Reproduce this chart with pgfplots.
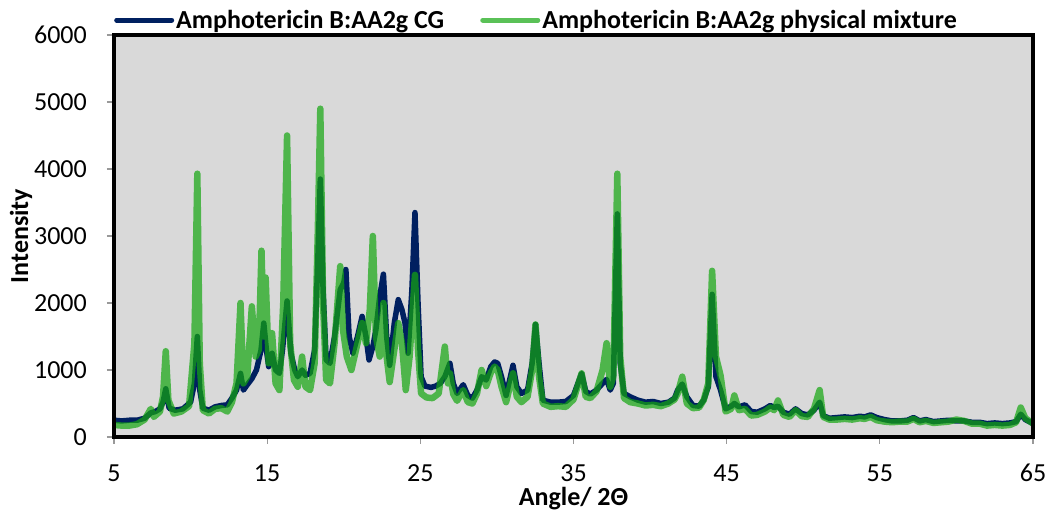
\documentclass[border=0pt]{standalone}
\usepackage{pgfplots}
\pgfplotsset{compat=1.18}
\usepackage{fontspec}
\setmainfont{Carlito}
\definecolor{navyline}{RGB}{0,32,96}
\definecolor{greenline}{RGB}{20,167,16}
\definecolor{plotbg}{RGB}{217,217,217}
\begin{document}
\begin{tikzpicture}
\useasboundingbox (-114pt,-76pt) rectangle (939pt,437pt);
\begin{axis}[
  at={(0pt,0pt)}, anchor=south west,
  scale only axis, width=919pt, height=402pt,
  xmin=5, xmax=65, ymin=0, ymax=6000,
  xtick={5,15,25,35,45,55,65},
  ytick={0,1000,2000,3000,4000,5000,6000},
  xtick pos=bottom, ytick pos=left,
  tick align=outside, major tick length=7pt,
  every tick/.style={gray!80, line width=1.2pt},
  axis line style={line width=4pt, black},
  axis background/.style={fill=plotbg},
  axis on top,
  /pgf/number format/assume math mode=true,
  /pgf/number format/set thousands separator={},
  tick label style={font=\fontsize{26}{30}\selectfont},
  xticklabel style={anchor=base, yshift=-38pt, inner sep=0pt},
  yticklabel style={anchor=east, xshift=-20pt, inner sep=0pt},
  every axis x label/.style={at={(rel axis cs:0.5,0)}, anchor=base, yshift=-69pt, font=\fontsize{26}{30}\selectfont\bfseries},
  every axis y label/.style={at={(rel axis cs:-0.1012,0.5)}, anchor=center, rotate=90, font=\fontsize{26}{30}\selectfont\bfseries},
  xlabel={Angle/ 2Θ},
  ylabel={Intensity},
  legend columns=2,
  legend style={at={(rel axis cs:0,1.037)}, anchor=west, draw=none, fill=none,
    font=\fontsize{26}{30}\selectfont\bfseries, inner sep=0pt,
    nodes={inner sep=2pt},
    /tikz/every even column/.append style={column sep=34pt}},
  legend image code/.code={\draw[#1, line width=5pt, line cap=round] (0pt,0pt) -- (55pt,0pt);},
]
\addplot[navyline, line width=5.5pt, line join=round] coordinates {
(5.0,250) (5.5,240) (6.0,250) (6.5,250) (7.0,280) (7.4,360) (7.7,380) (8.0,420) (8.2,520) (8.38,720) (8.6,430) (9.0,400) (9.5,420) (10.0,520) (10.25,800) (10.44,1500) (10.6,700) (10.8,430) (11.2,400) (11.6,450) (12.0,470) (12.4,480) (12.7,580) (13.0,700) (13.26,950) (13.45,700) (13.7,780) (14.0,870) (14.3,1000) (14.6,1300) (14.78,1700) (14.95,1300) (15.1,1050) (15.32,1250) (15.55,1000) (15.8,950) (16.0,1300) (16.3,2030) (16.55,1250) (16.8,1000) (17.0,900) (17.28,1000) (17.5,920) (17.8,950) (18.1,1300) (18.3,2600) (18.47,3850) (18.65,2200) (18.85,1150) (19.1,1100) (19.4,1500) (19.77,2200) (20.0,2300) (20.14,2500) (20.35,1500) (20.6,1250) (20.9,1500) (21.2,1800) (21.45,1500) (21.65,1150) (21.9,1350) (22.1,1600) (22.35,2100) (22.59,2430) (22.8,1500) (23.0,1070) (23.3,1700) (23.56,2050) (23.8,1900) (24.0,1700) (24.2,1250) (24.45,2200) (24.65,3350) (24.85,2000) (25.05,900) (25.3,760) (25.7,740) (26.0,760) (26.3,800) (26.6,900) (26.93,1100) (27.15,800) (27.4,650) (27.8,780) (28.1,620) (28.4,580) (28.7,700) (29.0,900) (29.3,850) (29.6,1050) (29.85,1120) (30.05,1100) (30.3,900) (30.6,620) (31.05,1070) (31.3,750) (31.6,650) (32.0,700) (32.3,1100) (32.52,1680) (32.75,1100) (33.0,550) (33.5,520) (34.0,520) (34.5,530) (35.0,620) (35.53,950) (35.8,680) (36.1,640) (36.5,700) (36.9,800) (37.16,860) (37.4,700) (37.6,800) (37.86,3330) (38.05,1100) (38.3,650) (38.7,600) (39.2,550) (39.7,520) (40.2,530) (40.7,500) (41.2,520) (41.6,580) (41.8,700) (42.1,790) (42.4,600) (42.8,470) (43.2,460) (43.5,550) (43.8,750) (44.05,2130) (44.3,900) (44.6,700) (44.93,420) (45.3,460) (45.5,500) (45.8,450) (46.2,480) (46.6,380) (47.0,370) (47.5,420) (47.85,470) (48.1,440) (48.35,460) (48.7,370) (49.1,340) (49.5,420) (49.9,350) (50.3,330) (50.7,400) (51.07,520) (51.3,320) (51.7,280) (52.2,290) (52.7,300) (53.2,290) (53.7,310) (54.0,300) (54.4,330) (54.8,290) (55.3,260) (55.8,240) (56.3,240) (56.8,250) (57.2,290) (57.6,240) (58.0,260) (58.5,230) (59.0,240) (59.5,250) (60.0,240) (60.5,240) (61.0,220) (61.5,220) (62.0,200) (62.5,210) (63.0,200) (63.5,210) (63.9,230) (64.2,340) (64.5,260) (65.0,200)
};
\addlegendentry{Amphotericin B:AA2g CG}
\addplot[greenline, opacity=0.7, line width=6.5pt, line join=round] coordinates {
(5.0,180) (5.5,170) (6.0,170) (6.5,190) (7.0,260) (7.4,420) (7.6,300) (8.0,380) (8.2,600) (8.38,1280) (8.55,550) (8.9,350) (9.4,380) (9.9,460) (10.25,1400) (10.44,3930) (10.6,1100) (10.8,400) (11.2,350) (11.6,420) (12.0,430) (12.4,380) (12.7,520) (13.0,800) (13.26,2000) (13.45,800) (13.7,900) (14.0,1950) (14.25,1200) (14.45,1300) (14.63,2780) (14.78,1500) (14.9,2380) (15.1,1100) (15.32,1550) (15.55,800) (15.8,700) (16.05,2000) (16.3,4500) (16.5,1400) (16.75,850) (17.0,750) (17.28,1200) (17.5,750) (17.8,700) (18.1,1100) (18.3,3000) (18.47,4900) (18.65,2000) (18.85,850) (19.1,800) (19.4,1400) (19.77,2550) (19.95,1600) (20.2,1200) (20.5,1000) (20.9,1400) (21.2,1700) (21.45,1400) (21.7,1900) (21.9,3000) (22.1,1500) (22.35,1200) (22.59,2000) (22.8,1200) (23.0,820) (23.3,1300) (23.56,1700) (23.8,1400) (24.05,700) (24.3,1200) (24.65,2420) (24.85,1300) (25.05,650) (25.4,590) (25.8,580) (26.2,650) (26.6,1350) (26.8,800) (26.93,950) (27.15,640) (27.4,540) (27.8,700) (28.1,520) (28.4,500) (28.7,650) (29.0,1000) (29.3,760) (29.6,960) (29.85,1050) (30.05,1000) (30.3,750) (30.6,520) (31.05,950) (31.3,600) (31.6,520) (32.0,600) (32.3,1000) (32.52,1680) (32.75,900) (33.0,500) (33.5,450) (34.0,460) (34.5,450) (35.0,560) (35.53,950) (35.8,600) (36.1,580) (36.5,680) (36.9,1000) (37.16,1400) (37.4,750) (37.6,900) (37.86,3930) (38.05,1200) (38.3,580) (38.7,520) (39.2,500) (39.7,470) (40.2,480) (40.7,460) (41.2,500) (41.6,560) (41.8,650) (42.1,900) (42.4,500) (42.8,430) (43.2,440) (43.5,550) (43.8,800) (44.05,2480) (44.3,1200) (44.6,920) (44.93,380) (45.3,420) (45.5,620) (45.8,400) (46.2,420) (46.6,320) (47.0,330) (47.5,380) (47.85,440) (48.1,400) (48.35,545) (48.7,330) (49.1,300) (49.5,400) (49.9,310) (50.3,300) (50.7,420) (51.07,700) (51.3,300) (51.7,260) (52.2,260) (52.7,270) (53.2,260) (53.7,280) (54.0,270) (54.4,300) (54.8,250) (55.3,230) (55.8,220) (56.3,230) (56.8,230) (57.2,270) (57.6,220) (58.0,240) (58.5,210) (59.0,220) (59.5,230) (60.0,260) (60.5,240) (61.0,200) (61.5,200) (62.0,170) (62.5,180) (63.0,170) (63.5,180) (63.9,220) (64.2,440) (64.5,280) (65.0,200)
};
\addlegendentry{Amphotericin B:AA2g physical mixture}
\end{axis}
\end{tikzpicture}
\end{document}
